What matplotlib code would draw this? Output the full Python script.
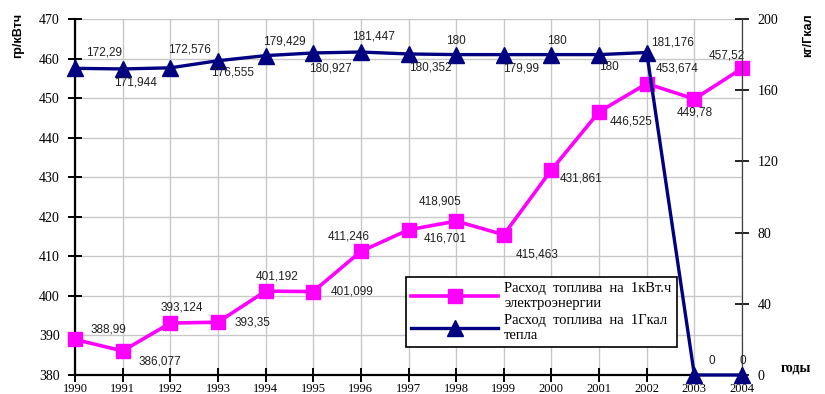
import matplotlib.pyplot as plt

years = list(range(1990, 2005))
elec = [388.99, 386.077, 393.124, 393.35, 401.192, 401.099, 411.246, 416.701,
        418.905, 415.463, 431.861, 446.525, 453.674, 449.78, 457.52]
heat = [172.29, 171.944, 172.576, 176.555, 179.429, 180.927, 181.447, 180.352,
        180, 179.99, 180, 180, 181.176, 0, 0]
elec_labels = ["388,99", "386,077", "393,124", "393,35", "401,192", "401,099",
               "411,246", "416,701", "418,905", "415,463", "431,861", "446,525",
               "453,674", "449,78", "457,52"]
heat_labels = ["172,29", "171,944", "172,576", "176,555", "179,429", "180,927",
               "181,447", "180,352", "180", "179,99", "180", "180", "181,176",
               "0", "0"]

# label offsets in pixels (dx right, dy down)
elec_off = [(33, -10), (37, 11), (11, -16), (35, 0), (11, -15), (39, 0),
            (-12, -15), (37, 9), (-16, -20), (33, 20), (30, 9), (32, 10),
            (30, -15), (0, 14), (-15, -13)]
heat_off = [(29, -16), (13, 14), (19, -18), (15, 12), (19, -14), (17, 16),
            (13, -16), (22, 14), (0, -14), (17, 14), (5, -14), (10, 12),
            (26, -10), (17, -14), (1, -14)]

serif = "Liberation Serif"
sans = "Liberation Sans"
MAG = "#ff00ff"
NAVY = "#000080"

fig = plt.figure(figsize=(8.25, 3.94), dpi=100)
ax = fig.add_axes([75 / 825, 19 / 394, 667 / 825, 356 / 394])
ax2 = ax.twinx()

ax.set_xlim(1990, 2004)
ax.set_ylim(380, 470)
ax2.set_ylim(0, 200)
ax.set_xticks(years)
ax.set_yticks(range(380, 471, 10))
ax2.set_yticks(range(0, 201, 40))
ax.grid(True, color="#c8c8c8", lw=1)
ax.set_axisbelow(True)

for a in (ax, ax2):
    a.spines["top"].set_visible(False)
ax.spines["left"].set_linewidth(1.6)
ax.spines["bottom"].set_linewidth(1.6)
ax2.spines["right"].set_color("#404040")
ax2.spines["left"].set_visible(False)
ax2.spines["bottom"].set_visible(False)

ax.tick_params(axis="y", direction="inout", length=10, width=1.4, pad=6)
ax.tick_params(axis="x", direction="inout", length=10, width=1.4, pad=1)
ax2.tick_params(axis="y", direction="inout", length=10, width=1.2, pad=6)
for lab in ax.get_yticklabels() + ax2.get_yticklabels():
    lab.set_fontfamily(serif)
    lab.set_fontsize(10)
for lab in ax.get_xticklabels():
    lab.set_fontfamily(serif)
    lab.set_fontsize(9)

l1, = ax.plot(years, elec, color=MAG, lw=2.6, marker="s", ms=10, clip_on=False,
              zorder=3)
l2, = ax2.plot(years, heat, color=NAVY, lw=2.4, marker="^", ms=11,
               clip_on=False, zorder=3)

pt = 72 / fig.dpi
for x, y, s, (dx, dy) in zip(years, elec, elec_labels, elec_off):
    ax.annotate(s, (x, y), xytext=(dx * pt, -dy * pt), textcoords="offset points",
                ha="center", va="center", fontsize=8.5, family=sans,
                color="#202020", annotation_clip=False)
for x, y, s, (dx, dy) in zip(years, heat, heat_labels, heat_off):
    ax2.annotate(s, (x, y), xytext=(dx * pt, -dy * pt), textcoords="offset points",
                 ha="center", va="center", fontsize=8.5, family=sans,
                 color="#202020", annotation_clip=False)

leg = ax2.legend([l1, l2],
                 ["Расход  топлива  на  1кВт.ч\nэлектроэнергии",
                  "Расход  топлива  на  1Гкал\nтепла"],
                 loc="upper left", bbox_to_anchor=(0.485, 0.295),
                 prop={"family": serif, "size": 10.5}, frameon=True,
                 fancybox=False, edgecolor="black", framealpha=1,
                 borderpad=0.35, handlelength=6.0, handletextpad=0.4,
                 labelspacing=0.25)
leg.get_frame().set_linewidth(1.2)

fig.text(18 / 825, 1 - 35 / 394, "гр/кВтч", rotation=90, ha="center",
         va="center", fontsize=9, fontweight="bold", family=sans)
fig.text(808 / 825, 1 - 35 / 394, "кг/Гкал", rotation=90, ha="center",
         va="center", fontsize=9, fontweight="bold", family=sans)
fig.text(796 / 825, 1 - 368 / 394, "годы", ha="center", va="center",
         fontsize=10, fontweight="bold", family=serif)

fig.savefig("out.png", dpi=100)
